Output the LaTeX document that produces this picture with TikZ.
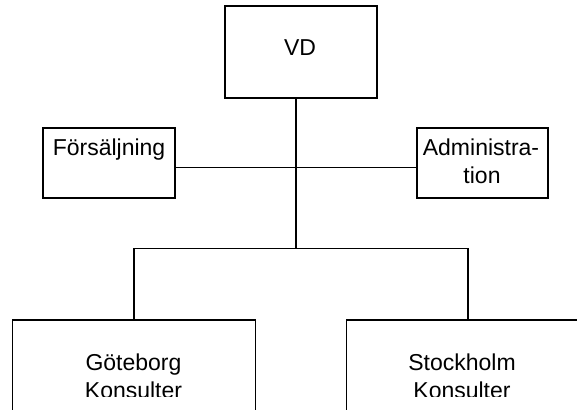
\documentclass[tikz,border=0pt]{standalone}
\usepackage{fontspec}
\setmainfont{Liberation Sans}
\begin{document}
\begin{tikzpicture}[x=1pt,y=-1pt,
  box/.style={draw=black,line width=1.8pt,fill=white,inner sep=0pt},
  lbl/.style={anchor=base,inner sep=0pt,font=\fontsize{23}{28}\selectfont},
  wire/.style={draw=black,line width=1.8pt}]
  \useasboundingbox (0,0) rectangle (577,409);
  \clip (0,0) rectangle (577,409);
  % boxes
  \node[box,minimum width=152pt,minimum height=92pt] (vd) at (301,52) {};
  \node[box,minimum width=132pt,minimum height=70pt] (fors) at (109,163) {};
  \node[box,minimum width=131pt,minimum height=70pt] (admin) at (482.5,163) {};
  \node[box,minimum width=243pt,minimum height=140pt] (gbg) at (134,390) {};
  \node[box,minimum width=240pt,minimum height=140pt] (sthlm) at (466.5,390) {};
  % texts
  \node[lbl] (vdt) at (300,56) {VD};
  \node[lbl] (forst) at (109,155) {Försäljning};
  \node[lbl] (admint1) at (481,155) {Administra-};
  \node[lbl] (admint2) at (482,183) {tion};
  \begin{scope}
    % the lower labels are cut along their last line
    \clip (0,0) rectangle (577,396.5);
    \node[lbl] (gbgt1) at (133.5,370) {Göteborg};
    \node[lbl] (gbgt2) at (133.5,398) {Konsulter};
    \node[lbl] (sthlmt1) at (462,370) {Stockholm};
    \node[lbl] (sthlmt2) at (462,398) {Konsulter};
  \end{scope}
  % junctions
  \coordinate (j1) at (296,167.5);
  \coordinate (j2) at (296,248.5);
  \coordinate (sj) at (468,320);
  % connectors
  \draw[wire] (vd.south -| j1) -- (j2);
  \draw[wire] (fors.east |- j1) -- (admin.west |- j1);
  \draw[wire] (gbg.north) |- (sj |- j2) -- (sj);
\end{tikzpicture}
\end{document}
